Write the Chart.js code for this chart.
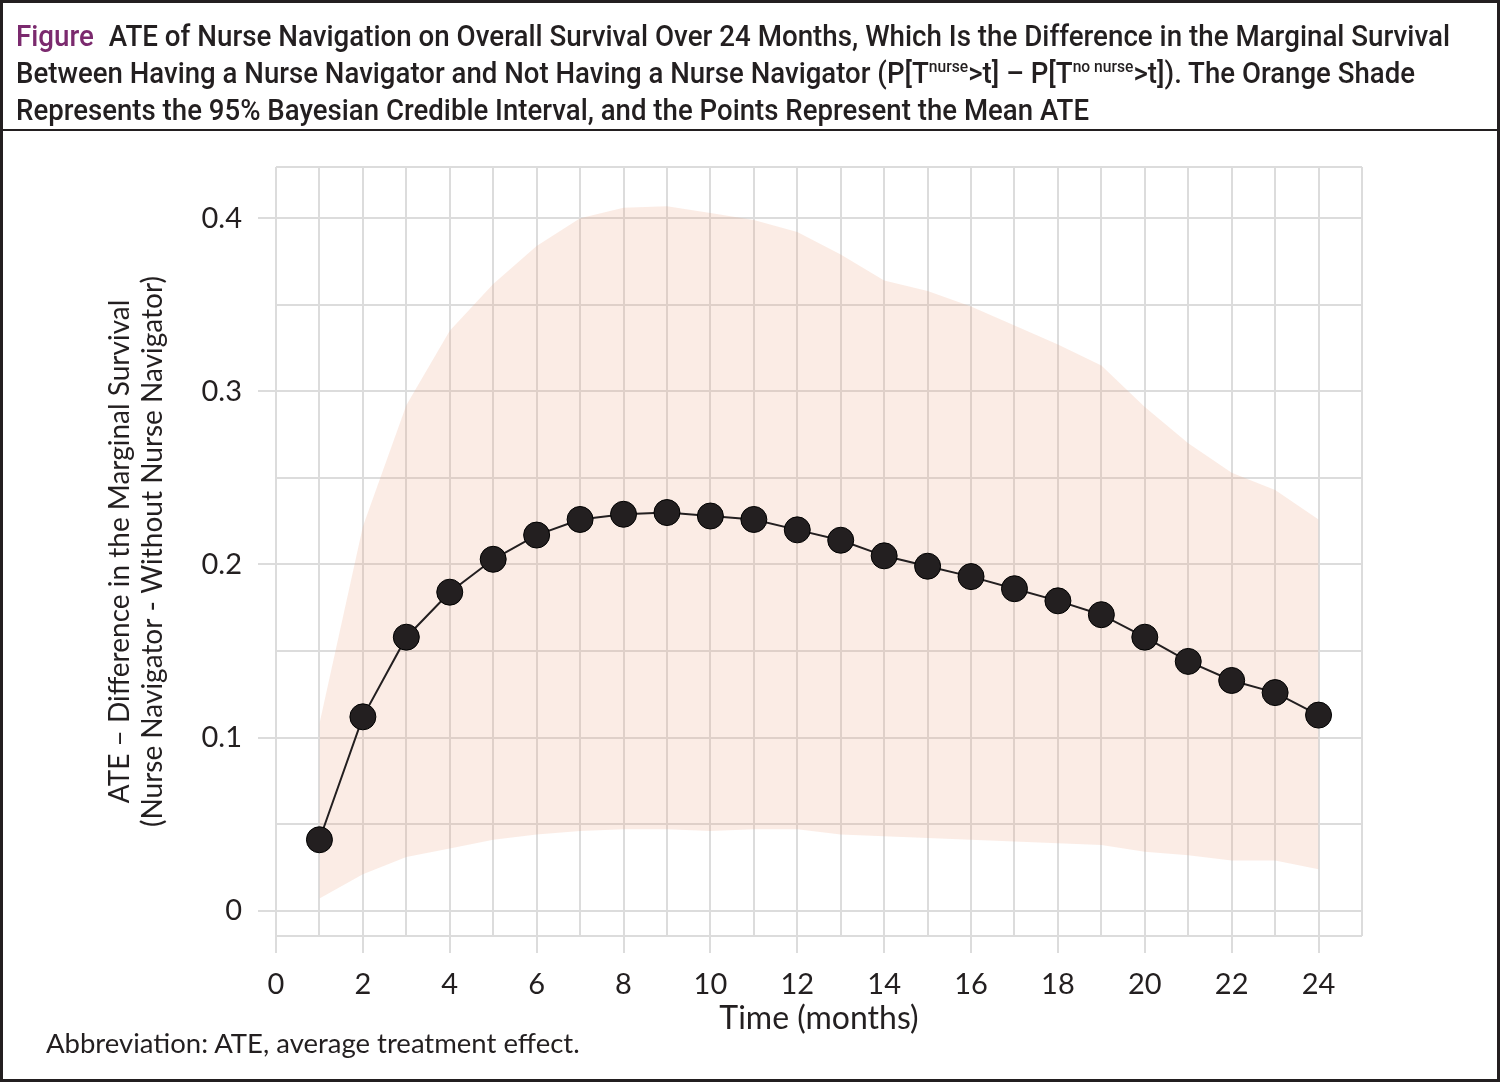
<!DOCTYPE html>
<html>
<head>
<meta charset="utf-8">
<script src="https://cdn.jsdelivr.net/npm/chart.js@4.4.1/dist/chart.umd.min.js"></script>
<style>
  html, body { margin: 0; padding: 0; background: #fff; }
  #wrap { position: relative; width: 1500px; height: 1082px; }
  #chart { position: absolute; left: 0; top: 0; }
  #frame { position: absolute; left: 0; top: 0; width: 1500px; height: 1082px; box-sizing: border-box;
           border: 3px solid #231f20; pointer-events: none; }
  #head { position: absolute; left: 0; top: 0; width: 100%; height: 126px; border-bottom: 2px solid #231f20; }
  .tl { position: absolute; left: 13px; white-space: nowrap; font-family: Roboto, sans-serif; font-weight: 500;
        font-size: 30px; color: #231f20; transform-origin: 0 50%; line-height: 34px; }
  .tl sup { font-size: 17px; vertical-align: 11px; line-height: 0; }
  .fig { color: #7b2a6e; margin-right: 16px; }
  #note { position: absolute; left: 43px; top: 1023px; font-family: Lato, sans-serif; font-size: 27.5px; color: #231f20; }
</style>
</head>
<body>
<div id="wrap">
  <canvas id="chart" width="1500" height="1082"></canvas>
  <div id="frame">
    <div id="head">
      <div class="tl" id="t1" data-w="1434" style="top:16px"><span class="fig">Figure</span>ATE of Nurse Navigation on Overall Survival Over 24 Months, Which Is the Difference in the Marginal Survival</div>
      <div class="tl" id="t2" data-w="1399" style="top:53px">Between Having a Nurse Navigator and Not Having a Nurse Navigator (P[T<sup>nurse</sup>&gt;t] – P[T<sup>no nurse</sup>&gt;t]). The Orange Shade</div>
      <div class="tl" id="t3" data-w="1073" style="top:90px">Represents the 95% Bayesian Credible Interval, and the Points Represent the Mean ATE</div>
    </div>
    <div id="note">Abbreviation: ATE, average treatment effect.</div>
  </div>
</div>
<script>
// data
var months = [1, 2, 3, 4, 5, 6, 7, 8, 9, 10, 11, 12, 13, 14, 15, 16, 17, 18, 19, 20, 21, 22, 23, 24];
var meanATE = [0.041, 0.112, 0.158, 0.184, 0.203, 0.217, 0.226, 0.229, 0.230, 0.228, 0.226, 0.220,
               0.214, 0.205, 0.199, 0.193, 0.186, 0.179, 0.171, 0.158, 0.144, 0.133, 0.126, 0.113];
var upperCrI = [0.108, 0.222, 0.292, 0.335, 0.362, 0.384, 0.400, 0.406, 0.407, 0.403, 0.399, 0.392,
                0.379, 0.364, 0.358, 0.349, 0.338, 0.327, 0.315, 0.291, 0.270, 0.253, 0.243, 0.226];
var lowerCrI = [0.007, 0.021, 0.031, 0.036, 0.041, 0.044, 0.046, 0.047, 0.047, 0.046, 0.047, 0.047,
                0.044, 0.043, 0.042, 0.041, 0.040, 0.039, 0.038, 0.034, 0.032, 0.029, 0.029, 0.024];
var xTickValues = [0, 1, 2, 3, 4, 5, 6, 7, 8, 9, 10, 11, 12, 13, 14, 15, 16, 17, 18, 19, 20, 21, 22, 23, 24, 25];
var yTickValues = [-0.0146, 0, 0.05, 0.1, 0.15, 0.2, 0.25, 0.3, 0.35, 0.4, 0.4296];

function pts(ys) {
    return months.map(function (m, i) { return {x: m, y: ys[i]}; });
}

function isTenth(v) {
    return v >= 0 && v <= 0.4001 && Math.abs(v * 10 - Math.round(v * 10)) < 1e-6;
}

var gridGrey = '#dcdcdc';
var ink = '#231f20';

new Chart(document.getElementById('chart'), {
    type: 'line',
    data: {
        datasets: [{
            data: pts(meanATE),
            borderColor: ink,
            borderWidth: 2,
            pointRadius: 13,
            pointBackgroundColor: ink,
            pointBorderColor: '#000',
            pointBorderWidth: 1,
            fill: false
        }, {
            data: pts(upperCrI),
            borderWidth: 0,
            pointRadius: 0,
            backgroundColor: 'rgba(236,170,138,0.22)',
            fill: '+1'
        }, {
            data: pts(lowerCrI),
            borderWidth: 0,
            pointRadius: 0,
            fill: false
        }]
    },
    options: {
        responsive: false,
        animation: false,
        events: [],
        layout: {padding: {top: 167, right: 138, bottom: 36, left: 0}},
        plugins: {legend: {display: false}, tooltip: {enabled: false}},
        scales: {
            x: {
                type: 'linear',
                min: 0,
                max: 25,
                afterBuildTicks: function (s) {
                    s.ticks = xTickValues.map(function (v) { return {value: v}; });
                },
                afterFit: function (s) { s.height = 110; },
                border: {display: false},
                grid: {
                    color: gridGrey,
                    lineWidth: 2,
                    tickLength: 17,
                    tickColor: function (c) {
                        var v = c.tick ? c.tick.value : 1;
                        return (v % 2 === 0 && v <= 24) ? gridGrey : 'rgba(0,0,0,0)';
                    }
                },
                ticks: {
                    autoSkip: false,
                    maxRotation: 0,
                    padding: 14,
                    color: ink,
                    font: {family: 'Lato', size: 29},
                    callback: function (v) { return (v % 2 === 0 && v <= 24) ? String(v) : ''; }
                },
                title: {
                    display: true,
                    text: 'Time (months)',
                    color: ink,
                    font: {family: 'Lato', size: 32, lineHeight: 1.2},
                    padding: {top: 0, bottom: 8}
                }
            },
            y: {
                type: 'linear',
                min: -0.0146,
                max: 0.4296,
                afterBuildTicks: function (s) {
                    s.ticks = yTickValues.map(function (v) { return {value: v}; });
                },
                afterFit: function (s) { s.width = 276; },
                border: {display: false},
                grid: {
                    color: gridGrey,
                    lineWidth: 2,
                    tickLength: 18,
                    tickColor: function (c) {
                        return (c.tick && isTenth(c.tick.value)) ? gridGrey : 'rgba(0,0,0,0)';
                    }
                },
                ticks: {
                    padding: 16,
                    color: ink,
                    font: {family: 'Lato', size: 29},
                    callback: function (v) {
                        if (!isTenth(v)) return '';
                        return v === 0 ? '0' : v.toFixed(1);
                    }
                },
                title: {
                    display: true,
                    text: ['ATE – Difference in the Marginal Survival', '(Nurse Navigator - Without Nurse Navigator)'],
                    color: ink,
                    font: {family: 'Lato', size: 28, lineHeight: 1.18},
                    padding: {top: 103, bottom: 0}
                }
            }
        }
    }
});

// squeeze each heading line to the width it has in the figure
['t1', 't2', 't3'].forEach(function (id) {
    var el = document.getElementById(id);
    var w = el.getBoundingClientRect().width;
    el.style.transform = 'scaleX(' + (+el.dataset.w / w) + ')';
});
</script>
</body>
</html>
